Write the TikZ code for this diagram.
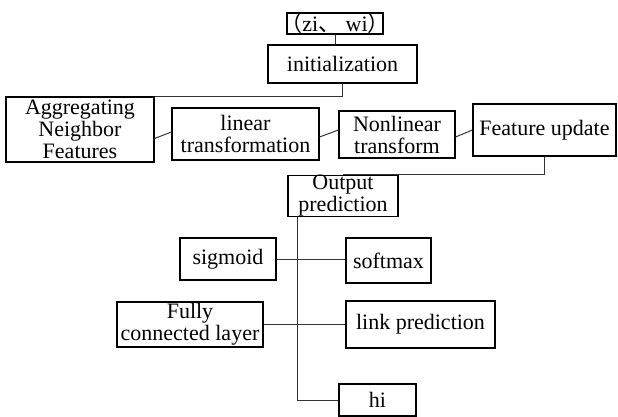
\documentclass[tikz,border=0pt]{standalone}
\usepackage{fontspec}
\setmainfont{Liberation Serif}
\newfontfamily\cjk{Noto Sans CJK SC}
\begin{document}
\begin{tikzpicture}[x=1pt,y=-1pt,
  box/.style={draw,line width=1.1pt,inner sep=0pt,align=center,
    font=\fontsize{22}{22}\selectfont},
  wire/.style={line width=1pt,black!80}]
\useasboundingbox (0,0) rectangle (618,417);
\node[box,minimum width=96pt,minimum height=21pt] (zw) at (335,23.5)
  {\makebox[0pt]{{\cjk （}zi{\cjk 、}\ wi{\cjk ）}}};
\node[box,minimum width=149pt,minimum height=38pt] (init) at (342.5,64) {initialization};
\node[box,minimum width=148pt,minimum height=65pt] (agg) at (80,129.5) {Aggregating\\Neighbor\\Features};
\node[box,minimum width=147pt,minimum height=52pt] (lin) at (245.5,134) {linear\\transformation};
\node[box,minimum width=116pt,minimum height=47pt] (nonlin) at (397,134.5) {Nonlinear\\transform};
\node[box,minimum width=143pt,minimum height=52pt] (feat) at (544.5,130) {Feature update};
\node[box,minimum width=110pt,minimum height=40pt] (out) at (343,196) {Output\\prediction};
\node[box,minimum width=96pt,minimum height=42pt] (sig) at (228,259) {sigmoid};
\node[box,minimum width=85pt,minimum height=45pt] (soft) at (388.5,260.5) {softmax};
\node[box,minimum width=146pt,minimum height=45pt] (fc) at (190,324.5) {Fully\\connected layer};
\node[box,minimum width=149pt,minimum height=47pt] (pred) at (420.5,324.5) {link prediction};
\node[box,minimum width=77pt,minimum height=32pt] (hi) at (377.5,400) {hi};
\draw[wire] (zw.south) -- (zw.south |- init.north);
\draw[wire] (init.south) |- (agg.north east);
\draw[wire] ([yshift=-9pt]agg.east) -- ([yshift=2pt]lin.west);
\draw[wire] ([yshift=-3pt]lin.east) -- ([yshift=4.5pt]nonlin.west);
\draw[wire] ([yshift=-2.5pt]nonlin.east) -- (feat.west);
\draw[wire] (feat.south) |- (out.north);
\coordinate (trunk) at ([xshift=10pt]out.south west);
\draw[wire] (trunk) |- (hi.west);
\draw[wire] (sig.east) -- (sig.east -| soft.west);
\draw[wire] (fc.east) -- (pred.west);
\end{tikzpicture}
\end{document}
